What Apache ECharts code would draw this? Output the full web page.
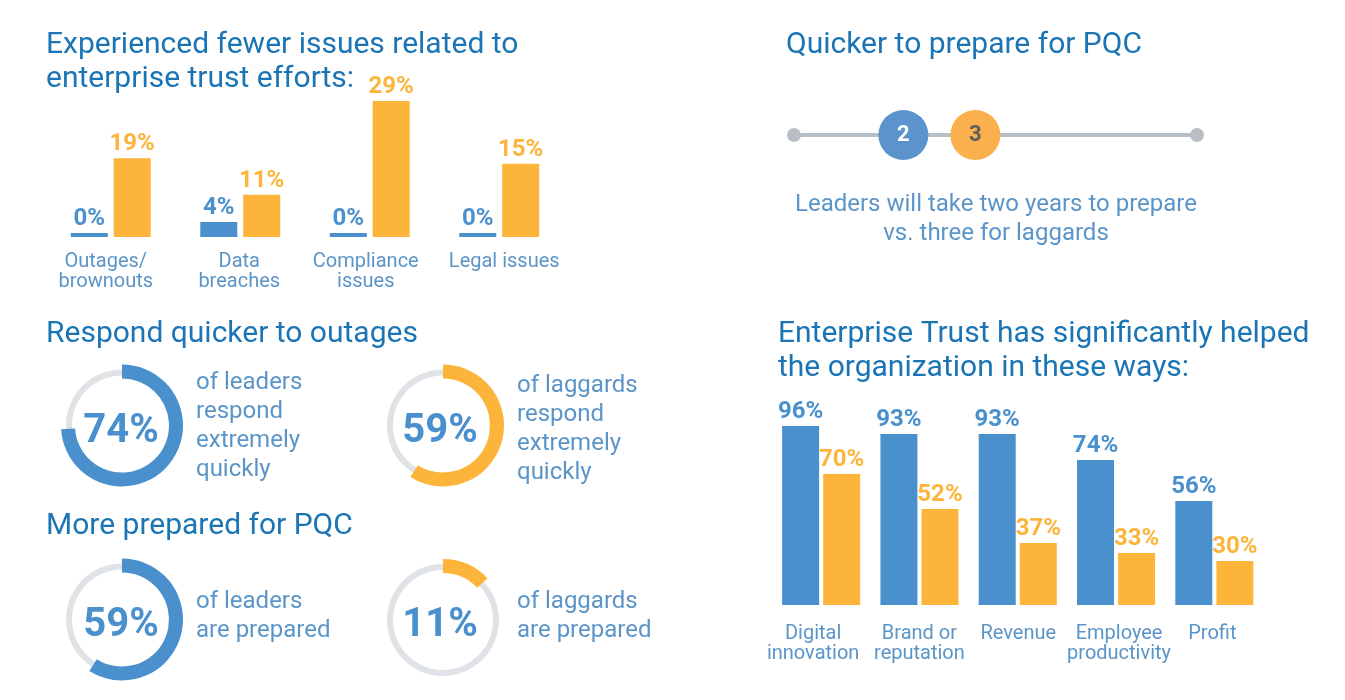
<!DOCTYPE html>
<html>
<head>
<meta charset="utf-8">
<title>Enterprise Trust</title>
<script src="https://cdn.jsdelivr.net/npm/echarts@6/dist/echarts.min.js"></script>
<style>
html, body { margin: 0; padding: 0; background: #fff; }
#main { width: 1345px; height: 700px; }
</style>
</head>
<body>
<div id="main"></div>
<script>
// issues chart. the source bars are not quite to scale with their labels,
// so bar heights and printed labels are read off separately
var issueCats = ['Outages/\nbrownouts', 'Data\nbreaches', 'Compliance\nissues', 'Legal issues'];
var issueLeaderBars = [0.85, 3.2, 0.85, 0.85];
var issueLaggardBars = [16.8, 9, 29, 15.6];
var issueLeaderLabels = ['0%', '4%', '0%', '0%'];
var issueLaggardLabels = ['19%', '11%', '29%', '15%'];

// helped chart
var helpCats = ['Digital\ninnovation', 'Brand or\nreputation', 'Revenue', 'Employee\nproductivity', 'Profit'];
var helpLeaderBars = [96, 91.7, 91.7, 77.7, 55.8];
var helpLaggardBars = [70.2, 51.5, 33.2, 27.9, 23.6];
var helpLeaderLabels = ['96%', '93%', '93%', '74%', '56%'];
var helpLaggardLabels = ['70%', '52%', '37%', '33%', '30%'];

// rings: arc as drawn, text as printed
var respondLeaders = 74;
var respondLaggards = 59;
var preparedLeaders = 59;
var preparedLaggards = 13;
var respondLeadersText = '74%';
var respondLaggardsText = '59%';
var preparedLeadersText = '59%';
var preparedLaggardsText = '11%';

// timeline, in years
var timelineEnds = [0.48, 6.08];
var leaderYears = 2;
var laggardYears = 3;

var BLUE = '#4a90cd';
var ORANGE = '#fdb43b';
var HEAD = '#1b75b5';
var SOFT = '#5b95c8';
var FONT = 'Roboto';

function heading(text, x, y) {
  return { text: text, left: x, top: y, padding: 0,
    textStyle: { color: HEAD, fontFamily: FONT, fontSize: 30, fontWeight: 400, lineHeight: 34 } };
}
function note(text, x, y) {
  return { text: text, left: x, top: y, padding: 0,
    textStyle: { color: SOFT, fontFamily: FONT, fontSize: 24, fontWeight: 400, lineHeight: 29 } };
}

// axis label nudges, the source labels sit off centre
function catData(cats, shifts) {
  return cats.map(function (c, i) {
    var s = shifts[i];
    return { value: c, textStyle: { padding: s > 0 ? [0, 0, 0, 2 * s] : [0, -2 * s, 0, 0] } };
  });
}

function barSeries(vals, labels, color, gridIndex, gap) {
  return {
    type: 'bar', xAxisIndex: gridIndex, yAxisIndex: gridIndex,
    data: vals, barWidth: 37, barGap: gap, silent: true,
    itemStyle: { color: color },
    label: {
      show: true, position: 'top', distance: 2, color: color,
      fontFamily: FONT, fontSize: 24, fontWeight: 700,
      formatter: function (p) { return labels[p.dataIndex]; }
    }
  };
}

function ring(value, text, color, cx, cy, dx) {
  var c = [cx, cy];
  return [{
    type: 'pie', center: c, radius: [50, 56], silent: true,
    label: { show: false }, labelLine: { show: false },
    data: [{ value: 100, itemStyle: { color: '#dfe2e6' } }]
  }, {
    type: 'pie', center: c, radius: [47, 61], startAngle: 90, silent: true,
    avoidLabelOverlap: false, labelLine: { show: false },
    label: { show: false },
    labelLayout: { dx: dx, dy: 6 },
    data: [
      { value: value, itemStyle: { color: color },
        label: { show: true, position: 'center', formatter: text, color: BLUE,
          fontFamily: FONT, fontSize: 40, fontWeight: 700 } },
      { value: 100 - value, itemStyle: { color: 'rgba(0,0,0,0)' } }
    ]
  }];
}

var catAxisBase = {
  type: 'category',
  axisLine: { show: false }, axisTick: { show: false }, splitLine: { show: false }
};
function catAxis(gridIndex, cats, shifts, margin) {
  return Object.assign({}, catAxisBase, {
    gridIndex: gridIndex, data: catData(cats, shifts),
    axisLabel: { interval: 0, margin: margin, color: SOFT, fontFamily: FONT, fontSize: 20, lineHeight: 20, overflow: 'none' }
  });
}

var option = {
  animation: false,
  backgroundColor: '#fff',
  title: [
    heading('Experienced fewer issues related to\nenterprise trust efforts:', 46, 28),
    heading('Respond quicker to outages', 46, 317),
    heading('More prepared for PQC', 46, 509),
    heading('Quicker to prepare for PQC', 786, 28),
    heading('Enterprise Trust has significantly helped\nthe organization in these ways:', 778, 317),
    note('of leaders\nrespond\nextremely\nquickly', 196, 368),
    note('of laggards\nrespond\nextremely\nquickly', 517, 371),
    note('of leaders\nare prepared', 196, 587),
    note('of laggards\nare prepared', 517, 587),
    { text: 'Leaders will take two years to prepare\nvs. three for laggards', left: 996, top: 190, padding: 0,
      textAlign: 'center',
      textStyle: { color: SOFT, fontFamily: FONT, fontSize: 24, fontWeight: 400, lineHeight: 29 } }
  ],
  grid: [
    { left: 46, top: 101, width: 518, height: 136 },
    { left: 772, top: 418.5, width: 491.5, height: 186.5 },
    { left: 794, top: 85, width: 403, height: 100 }
  ],
  xAxis: [
    catAxis(0, issueCats, [-5, -1, -4, 5], 15),
    catAxis(1, helpCats, [-8, 0, 0.5, 3, -2], 19),
    { type: 'value', gridIndex: 2, show: false, min: timelineEnds[0], max: timelineEnds[1] }
  ],
  yAxis: [
    { type: 'value', gridIndex: 0, show: false, min: 0, max: 29 },
    { type: 'value', gridIndex: 1, show: false, min: 0, max: 100 },
    { type: 'value', gridIndex: 2, show: false, min: 0, max: 2 }
  ],
  series: [
    barSeries(issueLeaderBars, issueLeaderLabels, BLUE, 0, '16%'),
    barSeries(issueLaggardBars, issueLaggardLabels, ORANGE, 0, '16%'),
    barSeries(helpLeaderBars, helpLeaderLabels, BLUE, 1, '11%'),
    barSeries(helpLaggardBars, helpLaggardLabels, ORANGE, 1, '11%'),
    {
      type: 'line', xAxisIndex: 2, yAxisIndex: 2, silent: true,
      data: [[timelineEnds[0], 1], [timelineEnds[1], 1]],
      symbol: 'circle', symbolSize: 14,
      lineStyle: { color: '#b9bfc7', width: 4 },
      itemStyle: { color: '#b9bfc7' }
    },
    {
      type: 'scatter', xAxisIndex: 2, yAxisIndex: 2, silent: true, z: 5,
      data: [
        { value: [leaderYears, 1], itemStyle: { color: '#5b93cc', opacity: 1 },
          label: { color: '#fff' } },
        { value: [laggardYears, 1], itemStyle: { color: '#fbb04e', opacity: 1 },
          label: { color: '#5f5f58' } }
      ],
      symbolSize: 50,
      label: {
        show: true, position: 'inside', fontFamily: FONT, fontSize: 22, fontWeight: 700,
        formatter: function (p) { return String(p.value[0]); }
      }
    }
  ]
    .concat(ring(respondLeaders, respondLeadersText, BLUE, 122, 425.5, -1))
    .concat(ring(respondLaggards, respondLaggardsText, ORANGE, 443, 425.5, -3))
    .concat(ring(preparedLeaders, preparedLeadersText, BLUE, 122, 619.5, -1))
    .concat(ring(preparedLaggards, preparedLaggardsText, ORANGE, 443, 620, -3))
};

var myChart = echarts.init(document.getElementById('main'));
myChart.setOption(option);
</script>
</body>
</html>
